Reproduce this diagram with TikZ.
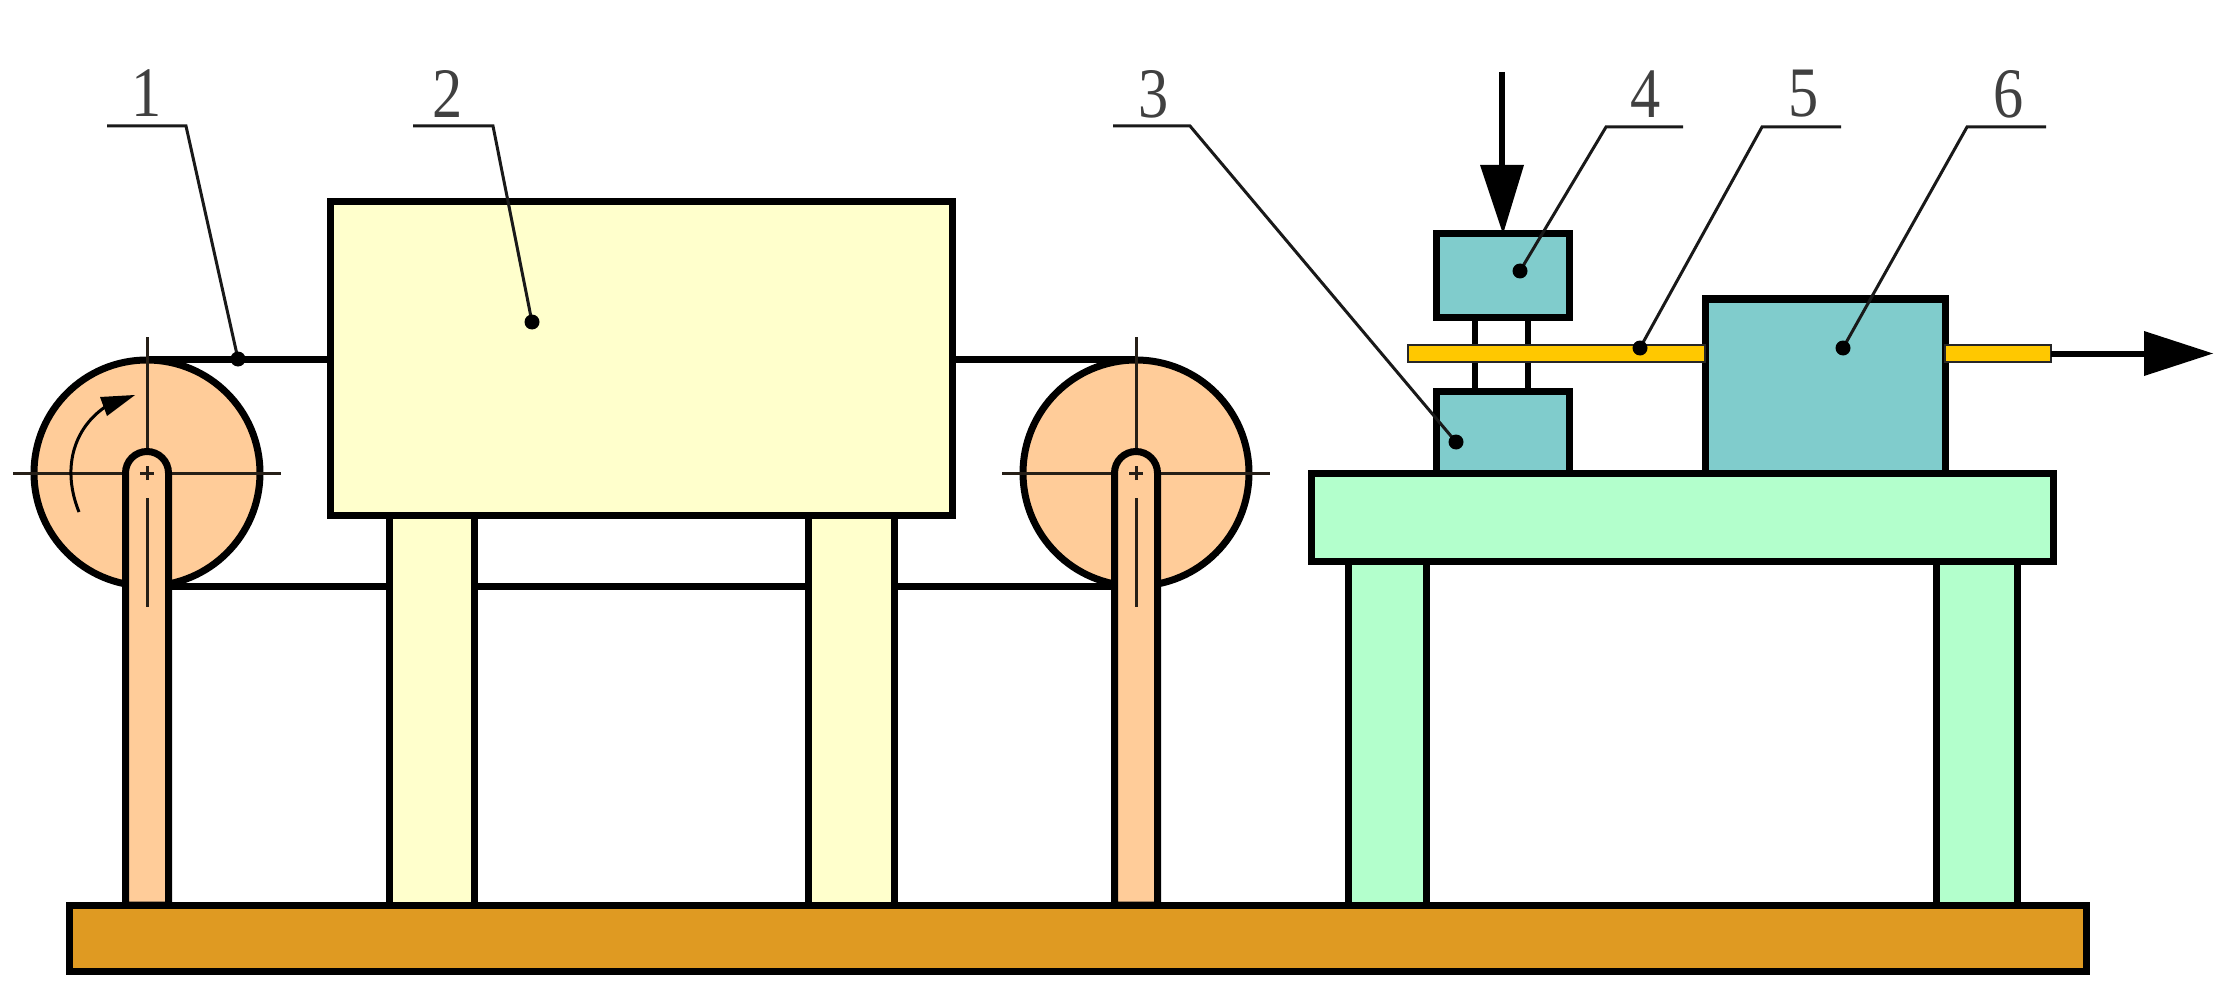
\documentclass[tikz,border=0pt]{standalone}
\usepackage{fontspec}
\setmainfont{Liberation Serif}
\definecolor{wheelc}{HTML}{FFCC99}
\definecolor{unitc}{HTML}{FFFFCC}
\definecolor{tablec}{HTML}{B3FFCC}
\definecolor{blockc}{HTML}{80CCCC}
\definecolor{basec}{HTML}{DF9A22}
\definecolor{barc}{HTML}{FFC800}
\tikzset{
  part/.style={draw=black,line width=7pt,line join=miter},
  belt/.style={draw=black,line width=7pt},
  centre/.style={draw=black!85!wheelc,line width=3pt},
  leader/.style={draw=black!90,line width=3pt},
  digit/.style={font=\fontsize{71}{71}\selectfont,text=black!75,xscale=0.85,transform shape,inner sep=0pt},
  rod/.style={draw=black!85,line width=2.4pt,fill=barc},
  dotmark/.style={fill=black}
}
\begin{document}
\begin{tikzpicture}[x=1pt,y=-1pt]
\useasboundingbox (0,0) rectangle (2232,1000);
\coordinate (wl) at (147,473);
\coordinate (wr) at (1136,473);
% belts
\draw[belt] (147,359) -- (330,359);
\draw[belt] (952,359) -- (1136,359);
\draw[belt] (147,586) -- (1136,586);
% wheels
\path[part,fill=wheelc] (wl) circle[radius=113];
\path[part,fill=wheelc] (wr) circle[radius=113];
\foreach \c in {wl,wr}{
  \draw[centre] ([yshift=136pt]\c) -- (\c);
  \draw[centre] ([xshift=-134pt]\c) -- ([xshift=134pt]\c);
}
% rotation arrow
\draw[line width=3pt,black] (79,512) .. controls (62,470) and (72,428) .. (108,405);
\fill[black] (100,397) -- (135,395) -- (107,416) -- cycle;
% arms
\foreach \c in {wl,wr}{
  \path[part,fill=wheelc] ([shift={(-21.5pt,-432pt)}]\c) -- ([xshift=-21.5pt]\c) arc[start angle=180,end angle=360,radius=21.5] -- ([shift={(21.5pt,-432pt)}]\c) -- cycle;
  \draw[centre] ([xshift=-7pt]\c) -- ([xshift=7pt]\c);
  \draw[centre] ([yshift=-7pt]\c) -- ([yshift=7pt]\c);
  \draw[centre] ([yshift=-25pt]\c) -- ([yshift=-134pt]\c);
}
% unit 2
\path[part,fill=unitc] (389,515) rectangle (474,905);
\path[part,fill=unitc] (808,515) rectangle (894,905);
\path[part,fill=unitc] (330,202) rectangle (952,515);
% table
\path[part,fill=tablec] (1348,561) rectangle (1426,905);
\path[part,fill=tablec] (1936,561) rectangle (2017,905);
\path[part,fill=tablec] (1311,473) rectangle (2053,561);
% rods between blocks
\draw[line width=5.5pt] (1475,317) -- (1475,390);
\draw[line width=5.5pt] (1528,317) -- (1528,390);
% blocks
\path[part,fill=blockc] (1436,234) rectangle (1569,317);
\path[part,fill=blockc] (1436,391) rectangle (1569,473);
\path[part,fill=blockc] (1705,299) rectangle (1945,473);
% wire
\path[rod] (1408,345) rectangle (1705,362);
\path[rod] (1945,345) rectangle (2051,362);
% base
\path[part,fill=basec] (69,905) rectangle (2086,971);
% force arrows
\draw[line width=6pt] (1502,72) -- (1502,170);
\fill[black] (1480,165) -- (1524,165) -- (1503,234) -- cycle;
\draw[line width=6pt] (2051,353.5) -- (2150,353.5);
\fill[black] (2144,331) -- (2213,353.5) -- (2144,376) -- cycle;
% leaders
\coordinate (d1) at (238,359);
\coordinate (d2) at (532,322);
\coordinate (d3) at (1456,442);
\coordinate (d4) at (1520,271);
\coordinate (d5) at (1640,348);
\coordinate (d6) at (1843,348);
\draw[leader] (107,126) -- (186,126) -- (d1);
\draw[leader] (413,126) -- (493,126) -- (d2);
\draw[leader] (1113,126) -- (1190,126) -- (d3);
\draw[leader] (1683,127) -- (1606,127) -- (d4);
\draw[leader] (1841,127) -- (1762,127) -- (d5);
\draw[leader] (2046,127) -- (1967,127) -- (d6);
\foreach \d in {d1,d2,d3,d4,d5,d6}{\fill[dotmark] (\d) circle[radius=7.5];}
% digits
\node[digit] (n1) at (147,93) {1};
\node[digit] (n2) at (448,94) {2};
\node[digit] (n3) at (1154,94) {3};
\node[digit] (n4) at (1646,94) {4};
\node[digit] (n5) at (1804,94) {5};
\node[digit] (n6) at (2009,94) {6};
\end{tikzpicture}
\end{document}
